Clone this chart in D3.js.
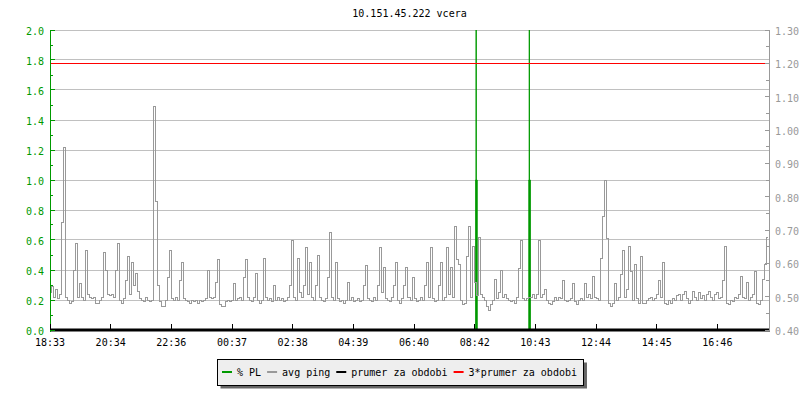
<!DOCTYPE html>
<html>
<head>
<meta charset="utf-8">
<script src="https://cdn.jsdelivr.net/npm/d3@7"></script>
<style>
  body { margin: 0; background: #fff; }
  text { font-family: "DejaVu Sans Mono", monospace; font-size: 10px; }
</style>
</head>
<body>
<script>
// 10.151.45.222 vcera – packet loss + ping over one day

const title = "10.151.45.222 vcera";

// avg ping, one value every 4 minutes starting 18:33 (left axis units)
const pingValues = [
  .25,.29,.22,.27,.21,.24,.72,1.22,.22,.20, .18,.19,.40,.58,.22,.31,.22,.20,.53,.24,
  .22,.21,.22,.18,.18,.20,.22,.52,.40,.24, .23,.24,.22,.40,.58,.20,.18,.21,.33,.49,
  .24,.45,.30,.38,.26,.21,.20,.19,.22,.20, .19,.20,1.49,.86,.30,.19,.16,.16,.20,.35,
  .53,.21,.20,.22,.20,.33,.45,.21,.20,.19, .18,.20,.19,.20,.18,.20,.19,.20,.21,.40,
  .22,.21,.22,.32,.47,.17,.16,.16,.19,.20, .19,.20,.31,.20,.21,.22,.20,.35,.47,.22,
  .20,.19,.22,.38,.20,.18,.20,.48,.22,.20, .21,.19,.30,.20,.22,.20,.21,.19,.20,.22,
  .30,.60,.22,.20,.48,.25,.22,.30,.55,.24, .45,.22,.20,.30,.50,.22,.20,.19,.21,.35,
  .65,.22,.20,.45,.21,.19,.20,.18,.20,.32, .20,.22,.19,.20,.21,.19,.20,.30,.43,.21,
  .20,.19,.22,.20,.30,.55,.25,.42,.21,.20, .19,.22,.30,.45,.20,.18,.21,.30,.42,.22,
  .20,.35,.21,.19,.20,.22,.20,.30,.45,.22, .55,.21,.19,.20,.30,.45,.20,.22,.55,.24,
  .42,.22,.69,.47,.44,.20,.17,.18,.49,.69, .22,.56,.32,.23,.62,.24,.22,.20,.16,.13,
  .17,.20,.34,.21,.25,.40,.22,.24,.21,.20, .19,.20,.18,.22,.41,.60,.21,.20,.21,.22,
  .22,.24,.21,.24,.60,.22,.24,.27,.20,.18, .17,.19,.22,.20,.22,.21,.33,.20,.19,.20,
  .21,.31,.19,.17,.20,.21,.20,.31,.22,.24, .21,.36,.22,.21,.20,.48,.76,1.0,.61,.18,
  .16,.18,.31,.20,.22,.37,.53,.22,.27,.56, .39,.20,.44,.21,.18,.49,.18,.18,.20,.21,
  .22,.20,.21,.24,.33,.22,.45,.18,.17,.20, .18,.21,.20,.23,.24,.20,.24,.26,.21,.18,
  .20,.26,.22,.20,.25,.21,.23,.20,.24,.26, .22,.20,.24,.25,.21,.22,.33,.56,.18,.17,
  .20,.19,.22,.21,.24,.36,.22,.21,.32,.20, .22,.24,.39,.18,.17,.20,.34,.44,.62
];
const pingStep = 4; // minutes

// % PL as [minute, value]
const plPoints = [
  [0, 0], [849, 0], [849, 1], [850, 1], [850, 2], [850, 1], [852, 1], [852, 0],
  [955, 0], [955, 1], [956, 1], [956, 2], [956, 1], [958, 1], [958, 0], [1432, 0]
];

// right axis units
const avgPing = 0.40;
const tripleAvg = 1.20;

const xTickLabels = ["18:33", "20:34", "22:36", "00:37", "02:38", "04:39",
                     "06:40", "08:42", "10:43", "12:44", "14:45", "16:46"];
const xTickStep = 121; // minutes
const leftTicks = [0.0, 0.2, 0.4, 0.6, 0.8, 1.0, 1.2, 1.4, 1.6, 1.8, 2.0];
const rightTicks = [0.40, 0.50, 0.60, 0.70, 0.80, 0.90, 1.00, 1.10, 1.20, 1.30];

const legendItems = [
  { label: "% PL", color: "#009900" },
  { label: "avg ping", color: "#999999" },
  { label: "prumer za obdobi", color: "#000000" },
  { label: "3*prumer za obdobi", color: "#ff0000" }
];

const width = 800, height = 400;
const plot = { left: 50, right: 769, top: 30, bottom: 330 };

const svg = d3.select("body").append("svg")
  .attr("width", width)
  .attr("height", height);

svg.append("rect").attr("width", width).attr("height", height).attr("fill", "#fff");

const x = d3.scaleLinear().domain([0, 1432]).range([plot.left, 768]);
const yL = d3.scaleLinear().domain([0, 2]).range([plot.bottom, plot.top]);
const yR = d3.scaleLinear().domain([0.4, 1.3]).range([plot.bottom, plot.top]);

const crisp = v => Math.floor(v) + 0.5;

// title
svg.append("text")
  .attr("x", (plot.left + plot.right) / 2)
  .attr("y", 17)
  .attr("text-anchor", "middle")
  .attr("fill", "#000")
  .text(title);

// grid
svg.append("g").selectAll("line")
  .data(leftTicks.filter(d => d > 0))
  .enter().append("line")
  .attr("x1", plot.left).attr("x2", plot.right)
  .attr("y1", d => crisp(yL(d))).attr("y2", d => crisp(yL(d)))
  .attr("stroke", "#c0c0c0")
  .attr("stroke-width", 1);

// % PL
const plLine = d3.line()
  .x(d => x(d[0]))
  .y(d => yL(d[1]));

svg.append("path")
  .datum(plPoints)
  .attr("d", plLine)
  .attr("fill", "#009900")
  .attr("stroke", "#009900")
  .attr("stroke-width", 1);

// avg ping
const pingLine = d3.line()
  .x((d, i) => x(i * pingStep))
  .y(d => yL(d))
  .curve(d3.curveStep);

svg.append("path")
  .datum(pingValues)
  .attr("d", pingLine)
  .attr("fill", "none")
  .attr("stroke", "#999999")
  .attr("stroke-width", 1)
  .attr("shape-rendering", "crispEdges");

// prumer (average) and 3*prumer
svg.append("line")
  .attr("x1", plot.left).attr("x2", plot.right + 1)
  .attr("y1", yR(avgPing)).attr("y2", yR(avgPing))
  .attr("stroke", "#000")
  .attr("stroke-width", 3);

svg.append("line")
  .attr("x1", plot.left + 1).attr("x2", 765)
  .attr("y1", crisp(yR(tripleAvg))).attr("y2", crisp(yR(tripleAvg)))
  .attr("stroke", "#ff0000")
  .attr("stroke-width", 1);

// left axis
const leftAxis = svg.append("g").attr("shape-rendering", "crispEdges");
leftAxis.append("line")
  .attr("x1", crisp(plot.left)).attr("x2", crisp(plot.left))
  .attr("y1", plot.top).attr("y2", plot.bottom + 2)
  .attr("stroke", "#009900");
leftAxis.selectAll(".maj").data(leftTicks).enter().append("line")
  .attr("x1", plot.left).attr("x2", plot.left + 5)
  .attr("y1", d => crisp(yL(d))).attr("y2", d => crisp(yL(d)))
  .attr("stroke", "#009900");
leftAxis.selectAll(".min").data(leftTicks.slice(1)).enter().append("line")
  .attr("x1", plot.left).attr("x2", plot.left + 3)
  .attr("y1", d => crisp(yL(d - 0.1))).attr("y2", d => crisp(yL(d - 0.1)))
  .attr("stroke", "#009900");
svg.append("g").selectAll("text").data(leftTicks).enter().append("text")
  .attr("x", 44)
  .attr("y", d => yL(d) + 5)
  .attr("text-anchor", "end")
  .attr("fill", "#009900")
  .text(d => d.toFixed(1));

// right axis
const rightAxis = svg.append("g").attr("shape-rendering", "crispEdges");
rightAxis.append("line")
  .attr("x1", crisp(plot.right)).attr("x2", crisp(plot.right))
  .attr("y1", plot.top).attr("y2", plot.bottom + 1)
  .attr("stroke", "#999999");
rightAxis.selectAll(".maj").data(rightTicks).enter().append("line")
  .attr("x1", plot.right - 4).attr("x2", plot.right)
  .attr("y1", d => crisp(yR(d))).attr("y2", d => crisp(yR(d)))
  .attr("stroke", "#999999");
rightAxis.selectAll(".min").data(rightTicks.slice(1)).enter().append("line")
  .attr("x1", plot.right - 3).attr("x2", plot.right)
  .attr("y1", d => crisp(yR(d - 0.05))).attr("y2", d => crisp(yR(d - 0.05)))
  .attr("stroke", "#999999");
svg.append("g").selectAll("text").data(rightTicks).enter().append("text")
  .attr("x", 775)
  .attr("y", d => yR(d) + 5)
  .attr("fill", "#999999")
  .text(d => d.toFixed(2));

// x axis ticks + labels
const xg = svg.append("g");
xg.selectAll("line").data(xTickLabels).enter().append("line")
  .attr("x1", (d, i) => crisp(x(i * xTickStep)))
  .attr("x2", (d, i) => crisp(x(i * xTickStep)))
  .attr("y1", plot.bottom - 6).attr("y2", plot.bottom)
  .attr("stroke", "#000")
  .attr("shape-rendering", "crispEdges");
xg.selectAll("text").data(xTickLabels).enter().append("text")
  .attr("x", (d, i) => x(i * xTickStep))
  .attr("y", 346)
  .attr("text-anchor", "middle")
  .attr("fill", "#000")
  .text(d => d);

// legend
const legend = svg.append("g");
const legShadow = legend.append("rect").attr("fill", "#666");
const legBox = legend.append("rect").attr("fill", "#eeeeee").attr("stroke", "#000")
  .attr("shape-rendering", "crispEdges");
let lx = 222;
const legY = 372;
legendItems.forEach(item => {
  legend.append("line")
    .attr("x1", lx).attr("x2", lx + 10)
    .attr("y1", legY).attr("y2", legY)
    .attr("stroke", item.color)
    .attr("stroke-width", 2);
  const t = legend.append("text")
    .attr("x", lx + 15)
    .attr("y", legY + 4)
    .attr("fill", "#000")
    .text(item.label);
  lx += 15 + t.node().getComputedTextLength() + 6;
});
const boxX = 217.5, boxY = 359.5, boxW = lx + 1 - boxX, boxH = 26;
legBox.attr("x", boxX).attr("y", boxY).attr("width", boxW).attr("height", boxH);
legShadow.attr("x", boxX + 3).attr("y", boxY + 3).attr("width", boxW).attr("height", boxH);
</script>
</body>
</html>
